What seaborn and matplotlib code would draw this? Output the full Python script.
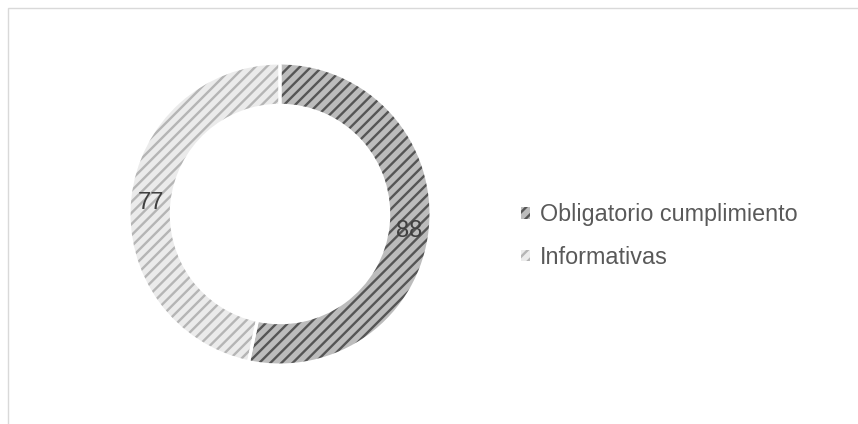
import matplotlib
matplotlib.use('Agg')
import matplotlib.pyplot as plt
from matplotlib.patches import Rectangle, Patch
import numpy as np
import seaborn as sns

# data
categorias = ['Obligatorio cumplimiento', 'Informativas']
valores = [88, 77]
colores = ['#bcbcbc', '#ebebeb']
tramas = ['#555555', '#b5b5b5']

sns.set_theme(style='white')
plt.rcParams['font.family'] = ['Liberation Sans', 'DejaVu Sans']
plt.rcParams['hatch.linewidth'] = 1.7

fig = plt.figure(figsize=(8.58, 4.24), dpi=100)
W, H = 858, 424
cx, cy, R = 280, 214, 151
ax = fig.add_axes([(cx - R) / W, (H - cy - R) / H, 2 * R / W, 2 * R / H])

ancho = 0.28
wedges, textos = ax.pie(valores, startangle=90, counterclock=False, radius=1,
                        colors=colores, wedgeprops=dict(width=ancho, linewidth=0))
for w, hc in zip(wedges, tramas):
    w.set_hatch('///')
    w.set_edgecolor(hc)
    w.set_linewidth(0)

# white gaps between slices
ax.pie(valores, startangle=90, counterclock=False, radius=1,
       colors=['none', 'none'],
       wedgeprops=dict(width=ancho, linewidth=2.2, edgecolor='white'))

# value labels in the middle of the ring
total = sum(valores)
ang = 90.0
for v in valores:
    span = 360.0 * v / total
    mid = np.deg2rad(ang - span / 2)
    r = 1 - ancho / 2
    ax.text(r * np.cos(mid), r * np.sin(mid) - 0.02, str(v), ha='center', va='center',
            fontsize=17, color='#404040')
    ang -= span

ax.set_xlim(-1, 1)
ax.set_ylim(-1, 1)
ax.set_aspect('equal')
ax.axis('off')

handles = [Patch(facecolor=c, edgecolor=h, hatch='///', linewidth=0)
           for c, h in zip(colores, tramas)]
leg = fig.legend(handles, categorias, loc='center left',
                 bbox_to_anchor=(500 / W, (H - 236) / H), frameon=False,
                 fontsize=16.8, handlelength=0.4, handleheight=0.4,
                 handletextpad=0.4, labelspacing=0.85)
for t in leg.get_texts():
    t.set_color('#595959')

# chart area border
fig.patches.append(Rectangle((7.5 / W, -0.05), 1.1, (H - 7.5) / H + 0.05,
                             transform=fig.transFigure, fill=False,
                             edgecolor='#d9d9d9', linewidth=1))

fig.savefig('out.png', dpi=100)
